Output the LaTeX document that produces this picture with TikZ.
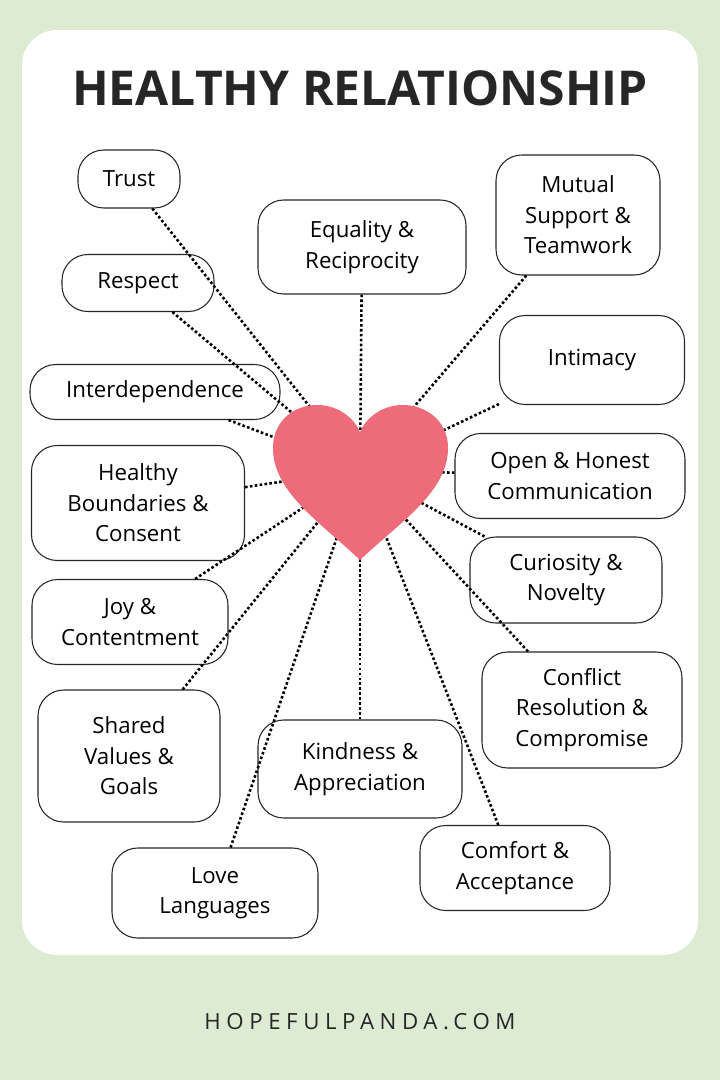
\documentclass[tikz,border=0pt]{standalone}
\usepackage{fontspec}
\setmainfont{Open Sans}
\definecolor{bggreen}{HTML}{DDEBD3}
\definecolor{heartred}{HTML}{EE6B7A}
\begin{document}
\begin{tikzpicture}[x=0.03cm,y=-0.03cm,
  box/.style={draw=black!85,line width=0.9pt,rounded corners=22pt,fill=white,
              align=center,inner sep=2pt,font=\fontsize{19}{26}\selectfont},
  link/.style={dotted,line width=2.2pt}]
  \fill[bggreen] (0,0) rectangle (720,1080);
  \fill[white,rounded corners=30pt] (22,30) rectangle (698,955);
  \node[text=black!85] (title) at (360,88) {\fontsize{41}{48}\selectfont\bfseries HEALTHY RELATIONSHIP};
  \node[text=black!85] (site) at (360,1022) {\fontsize{19}{22}\selectfont\addfontfeature{LetterSpace=25}HOPEFULPANDA.COM};
  \coordinate (core) at (360,470);

  % boxes
  \node[box,minimum width=102*0.03cm,minimum height=58*0.03cm] (trust) at (129,179) {Trust};
  \node[box,minimum width=208*0.03cm,minimum height=94*0.03cm] (equal) at (362,247) {Equality \&\\Reciprocity};
  \node[box,minimum width=164*0.03cm,minimum height=120*0.03cm] (mutual) at (578,215) {Mutual\\Support \&\\Teamwork};
  \node[box,minimum width=152*0.03cm,minimum height=57*0.03cm] (respect) at (138,283) {Respect};
  \node[box,minimum width=185*0.03cm,minimum height=89*0.03cm] (intimacy) at (592,360) {Intimacy};
  \node[box,minimum width=250*0.03cm,minimum height=55*0.03cm] (inter) at (155,392) {Interdependence};
  \node[box,minimum width=230*0.03cm,minimum height=85*0.03cm] (open) at (570,476) {Open \& Honest\\Communication};
  \node[box,minimum width=213*0.03cm,minimum height=115*0.03cm] (bound) at (138,503) {Healthy\\Boundaries \&\\Consent};
  \node[box,minimum width=192*0.03cm,minimum height=86*0.03cm] (curio) at (566,580) {Curiosity \&\\Novelty};
  \node[box,minimum width=196*0.03cm,minimum height=85*0.03cm] (joy) at (130,622) {Joy \&\\Contentment};
  \node[box,minimum width=200*0.03cm,minimum height=116*0.03cm] (conflict) at (582,710) {Conflict\\Resolution \&\\Compromise};
  \node[box,minimum width=182*0.03cm,minimum height=132*0.03cm] (shared) at (129,756) {Shared\\Values \&\\Goals};
  \node[box,minimum width=204*0.03cm,minimum height=98*0.03cm] (kind) at (360,769) {Kindness \&\\Appreciation};
  \node[box,minimum width=190*0.03cm,minimum height=85*0.03cm] (comfort) at (515,868) {Comfort \&\\Acceptance};
  \node[box,minimum width=206*0.03cm,minimum height=90*0.03cm] (love) at (215,893) {Love\\Languages};

  % dotted links, the heart goes on top
  \foreach \n in {trust,equal,mutual,respect,intimacy,inter,open,bound,curio,joy,conflict,shared,kind,comfort,love}
    \draw[link] (\n) -- (core);

  % heart
  \fill[heartred] (360,560) .. controls (320,522) and (273,492) .. (273,448)
    .. controls (273,420) and (295,405) .. (317,405)
    .. controls (340,405) and (355,420) .. (360,432)
    .. controls (365,420) and (380,405) .. (403,405)
    .. controls (425,405) and (448,420) .. (448,448)
    .. controls (448,492) and (400,522) .. (360,560);
\end{tikzpicture}
\end{document}
